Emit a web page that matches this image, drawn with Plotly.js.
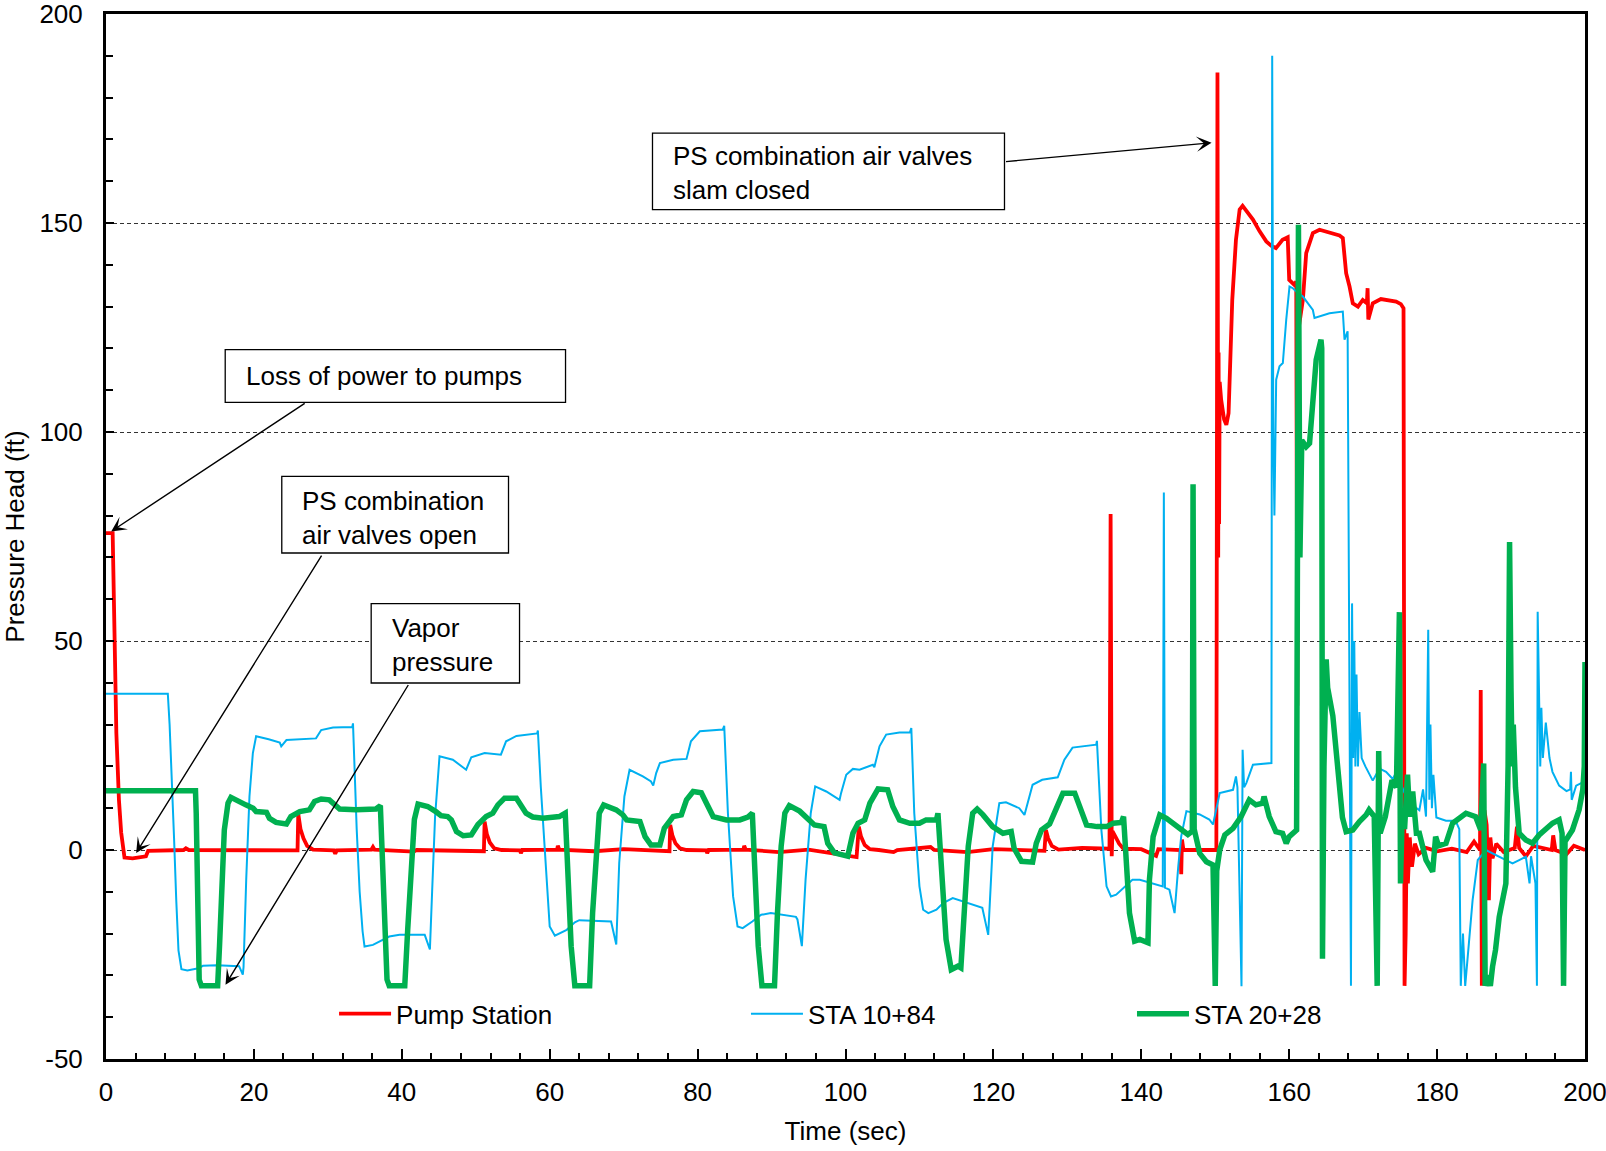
<!DOCTYPE html>
<html>
<head>
<meta charset="utf-8">
<script src="https://cdn.plot.ly/plotly-3.0.1.min.js"></script>
<style>html,body{margin:0;padding:0;background:#fff;}#chart{width:1606px;height:1151px;}</style>
</head>
<body>
<div id="chart"></div>
<script>
// ---------- DATA ----------
const seriesNames = ['Pump Station', 'STA 10+84', 'STA 20+28'];

const pumpTime = [
0, 0.9, 1.15, 1.4, 1.75, 2.05, 2.5, 3.6, 5.4, 5.7,
10.5, 10.8, 11.2, 25.9, 26.0, 26.3, 26.7, 27.2, 28.0, 30.8,
31.0, 31.2, 35.9, 36.1, 36.3, 41.6, 42.0, 51.1, 51.2, 51.5,
51.9, 52.5, 53.5, 56.0, 56.1, 56.3, 61.0, 61.1, 61.3, 66,
70, 76.2, 76.3, 76.6, 77.0, 77.6, 78.5, 81.2, 81.3, 81.5,
86.2, 86.3, 86.5, 91, 95, 101.5, 101.8, 102.1, 102.6, 103.3,
104.5, 106.5, 107, 111.5, 112, 116.5, 120, 126.9, 127.1, 127.4,
127.9, 128.8, 132, 135.7, 135.85, 136.0, 136.1, 136.5, 137.0, 137.6,
140, 142.0, 142.3, 145.3, 145.4, 145.5, 145.7, 150.15, 150.3, 150.4,
150.45, 150.52, 150.6, 150.8, 151.2, 151.5, 151.8, 152.3, 152.8, 153.3,
153.7, 154.2, 155.1, 156.0, 156.9, 157.6, 158.2, 159.1, 159.8, 160.0,
160.7, 160.95, 161.1, 161.3, 161.85, 162.3, 163.2, 164.1, 165.9, 166.8,
167.25, 167.7, 168.16, 168.6, 169.3, 169.95, 170.5, 170.6, 170.7, 171.3,
172.4, 174.46, 175.1, 175.46, 175.6, 175.75, 175.9, 176.05, 176.3, 176.6,
177.0, 177.5, 178.5, 180, 182, 184, 185.0, 185.5, 185.8, 185.9,
186.05, 186.2, 186.4, 186.7, 187.0, 187.2, 187.5, 188.0, 189, 190.5,
190.8, 191.1, 192, 193, 195.5, 195.7, 196.0, 197.5, 198.5, 200
];
const pumpHead = [
75.8, 75.8, 52, 28, 12, 4.2, -1.8, -2.0, -1.5, -0.2,
0.0, 0.4, 0.0, -0.1, 8.6, 5.0, 2.8, 1.0, 0.1, -0.1,
-0.9, -0.1, 0.1, 0.7, 0.1, -0.4, 0, -0.3, 6.8, 3.8,
1.8, 0.4, 0, -0.1, -0.8, 0, 0.1, 1.0, 0.1, -0.3,
0.2, -0.3, 6.0, 3.4, 1.6, 0.4, 0, -0.1, -0.8, 0,
0.1, 1.0, 0.1, -0.5, 0.1, -1.7, 5.6, 3.2, 1.2, 0.2,
0, -0.5, 0, 0.7, 0, -0.5, 0.2, -0.2, 4.8, 2.8,
1.0, 0.1, 0.5, 0.3, 80.4, -1.5, 4.5, 3.2, 1.5, 0.3,
0.2, -1.4, 0.2, 0, -5.8, 2.5, 0, 0, 186, 70,
119, 78, 112, 107.7, 103, 101.7, 104.5, 131.6, 146, 153.2,
154.1, 152.8, 150.8, 148, 145.6, 144.5, 144.0, 146.0, 146.6, 136.4,
135.2, 136, 34.5, 125, 131.6, 142.8, 147.6, 148.4, 147.6, 147.0,
146.4, 138.0, 134.8, 130.8, 130.0, 131.6, 130.8, 134.4, 126.9, 130.8,
131.8, 131.2, 130.6, 129.6, -32.5, -20, 4, -8, 3, -4,
1.5, -1, 0.5, -0.3, 0.3, -0.5, 2, 0.5, 0, 38.3,
-32.5, -5, 9.5, 6, -12, 3, -2, 1.5, -0.5, 0.5,
5.6, 0.5, -1.5, 1, 0, 3.5, 0, -1, 1, 0
];

const sta1084Time = [
0, 8.36, 8.6, 8.9, 9.2, 9.5, 9.8, 10.2, 11, 12.5,
13.1, 15, 18.0, 18.5, 18.6, 18.96, 19.4, 19.86, 20.3, 22,
23.5, 23.7, 24.4, 28.4, 29.1, 30.7, 33.3, 33.4, 33.6, 33.9,
34.3, 34.7, 34.96, 36.1, 38.3, 39.7, 43.1, 43.8, 44.1, 44.5,
45.1, 46.9, 48.7, 49.4, 51.2, 53.4, 54.1, 55.5, 58.3, 58.4,
58.8, 59.3, 60.0, 60.7, 62.3, 63.4, 64.0, 68.3, 69.0, 69.4,
70.1, 70.8, 72.6, 73.7, 74.0, 74.4, 74.9, 76.7, 78.5, 79.1,
80.3, 83.4, 83.6, 84.1, 84.8, 85.4, 86.1, 87.4, 88.6, 89.9,
93.3, 93.5, 94.1, 94.6, 95.3, 95.9, 97.4, 99.2, 99.4, 100.1,
101.0, 101.9, 103.7, 103.9, 104.6, 105.5, 107.3, 108.7, 108.9, 109.3,
110.0, 110.5, 111.2, 112.3, 113.2, 114.5, 118.1, 118.5, 119.3, 119.9,
120.8, 121.7, 123.5, 124.2, 125.3, 126.6, 128.7, 129.6, 130.7, 133.9,
134.0, 134.6, 135.3, 135.9, 136.6, 138.8, 139.8, 142.9, 143.05, 143.2,
143.8, 144.5, 145.0, 145.4, 146.1, 147.9, 149.2, 149.7, 150.6, 152.4,
152.8, 153.0, 153.55, 153.7, 153.9, 154.2, 155.1, 157.6, 157.7, 157.85,
158.0, 158.24, 158.69, 159.14, 159.6, 160.04, 160.5, 160.95, 161.85, 163.2,
163.42, 165.45, 167.25, 167.48, 167.9, 168.1, 168.35, 168.5, 168.65, 168.8,
168.95, 169.1, 169.3, 169.5, 169.8, 170.3, 170.9, 171.3, 172.2, 173.1,
174.0, 174.5, 175.5, 176.5, 177.6, 178.1, 178.5, 178.8, 178.95, 179.1,
179.3, 179.5, 179.9, 181.2, 182.5, 183.0, 183.2, 183.5, 183.8, 184.1,
184.3, 184.8, 185.5, 186.6, 187.5, 188.4, 190.2, 191.1, 192.0, 192.5,
192.7, 193.3, 193.5, 193.6, 193.8, 193.95, 194.1, 194.3, 194.7, 195.2,
195.6, 196.5, 197.5, 198.0, 198.1, 198.2, 198.8, 199.7, 200
];
const sta1084Head = [
37.4, 37.4, 30, 18, 3, -12, -24, -28.5, -28.8, -28.3,
-27.7, -27.6, -27.8, -29.8, -28, -7.1, 12.8, 23.2, 27.2, 26.5,
25.7, 24.8, 26.3, 26.7, 28.7, 29.3, 29.4, 30.3, 20, 5,
-10, -19.5, -23.1, -22.7, -20.7, -20.3, -20.3, -23.8, -10, 8,
22.4, 21.6, 19.2, 22.2, 23.2, 22.8, 26.0, 27.3, 27.9, 28.6,
15, 0.8, -18.3, -20.5, -19.1, -17.3, -16.8, -17.1, -22.6, -3.1,
12.8, 19.2, 17.6, 16.4, 15.4, 18.4, 20.8, 21.6, 21.8, 26.0,
28.4, 28.8, 29.7, 8.8, -11.1, -18.3, -18.7, -17.1, -15.5, -15.1,
-16.0, -16.6, -23.0, -7.1, 8.8, 15.2, 14.0, 12.0, 13.6, 18.0,
19.4, 19.2, 20.4, 19.8, 24.8, 27.6, 28.1, 28.1, 29.2, 8.8,
-8.7, -14.3, -15.1, -14.3, -12.7, -11.5, -13.5, -13.8, -20.3, 0.8,
11.2, 11.4, 10.0, 8.4, 15.6, 16.8, 17.4, 21.6, 24.5, 25.2,
26.1, 4.8, -8.7, -11.1, -10.7, -7.1, -7.1, -8.7, 85.5, -9,
-9.5, -15.1, -3.9, 3.3, 9.3, 8.5, 7.3, 6.1, 13.6, 14.4,
17.6, 15, -32.6, 24, 15, 16.0, 20.4, 20.8, 190, 100,
80, 112.5, 115.7, 116.5, 126.9, 134.8, 134.4, 133.6, 132.4, 129.2,
127.3, 128.4, 128.8, 122.1, 124.1, 60, -32.5, 59, 22, 50,
20, 42, 20, 33, 22, 20, 17.9, 16.6, 19.5, 18.7,
17.0, 18.7, 14, 11, 9.5, 14.5, 8, 52.7, 12, 30,
10, 18, 7.8, 7.0, 7.0, 5, -32.5, -20, -32.5, -25,
-22.3, -12, -2.4, 0, -0.8, -1.6, -3.2, -2.4, -1.6, -8,
-1.5, -8, -32.5, 57, 36.3, 20, 34, 22, 30.5, 22,
18.7, 15.4, 14.1, 14.5, 18.7, 12, 15.4, 16.2, 16
];

const sta2028Time = [
0, 12.1, 12.2, 12.4, 12.6, 12.9, 15.1, 15.35, 15.7, 16.0,
16.5, 16.9, 18.9, 19.9, 20.3, 21.7, 22.1, 23.0, 24.4, 25.0,
26.2, 27.5, 28.2, 29.1, 30.2, 30.9, 31.6, 33.8, 36.5, 37.1,
37.3, 37.7, 38.0, 38.3, 40.4, 40.8, 41.3, 41.7, 42.2, 43.5,
44.6, 45.3, 46.2, 46.7, 47.4, 48.3, 49.4, 50.3, 51.4, 52.3,
53.0, 53.9, 55.5, 56.1, 56.8, 57.7, 59.1, 61.3, 62.1, 62.5,
62.9, 63.4, 65.4, 65.8, 66.3, 66.7, 67.3, 69.0, 69.9, 70.4,
72.2, 72.9, 73.7, 74.9, 75.5, 76.7, 77.8, 78.5, 79.4, 80.5,
81.2, 82.1, 83.9, 85.7, 86.8, 87.4, 87.8, 88.2, 88.7, 90.4,
90.8, 91.3, 91.8, 92.4, 93.8, 95.1, 95.8, 97.1, 97.6, 98.5,
100.3, 101.0, 101.7, 102.6, 103.3, 104.4, 105.7, 106.4, 107.3, 108.7,
110.0, 110.9, 112.3, 112.5, 113.0, 113.6, 114.3, 115.2, 115.6, 116.1,
116.6, 117.2, 117.8, 118.6, 119.9, 121.3, 122.4, 122.8, 123.8, 125.3,
125.8, 126.5, 127.6, 128.5, 129.4, 131.0, 131.7, 132.6, 134.0, 135.3,
136.2, 137.3, 137.6, 138.0, 138.4, 139.1, 139.8, 140.9, 141.1, 141.6,
142.5, 143.4, 145.2, 146.3, 146.9, 147.0, 147.15, 147.9, 148.8, 149.7,
150.0, 150.2, 150.6, 151.3, 152.4, 153.5, 154.6, 155.5, 156.4, 156.6,
157.3, 158.2, 159.1, 159.6, 160.0, 161.0, 161.25, 161.45, 161.7, 162.3,
162.75, 163.2, 163.65, 164.3, 164.4, 164.5, 164.7, 165.0, 165.2, 165.9,
166.3, 166.8, 167.2, 167.7, 168.6, 169.5, 170.4, 170.8, 171.5, 171.9,
172.1, 172.3, 173.0, 173.9, 174.5, 174.9, 175.05, 175.3, 175.6, 176.0,
176.3, 176.7, 177.2, 177.6, 178.5, 179.4, 179.8, 180.2, 181.2, 182.1,
183.0, 183.9, 185.2, 185.9, 186.3, 186.5, 186.8, 187.2, 187.5, 187.9,
188.4, 188.9, 189.3, 189.6, 189.8, 190.0, 190.15, 190.3, 190.6, 191.1,
192.0, 192.9, 193.8, 195.6, 196.5, 196.9, 197.1, 197.3, 198.3, 199.2,
199.7, 199.9, 200
];
const sta2028Head = [
14.2, 14.2, 8.8, -15.1, -31.0, -32.5, -32.5, -23.0, -7.1, 4.8,
11.2, 12.6, 10.8, 10.0, 9.2, 9.0, 7.6, 6.6, 6.2, 8.0,
9.2, 9.6, 11.6, 12.2, 12.0, 10.8, 9.8, 9.6, 9.8, 10.6,
0.9, -15.1, -31.0, -32.5, -32.5, -19.0, -3.1, 7.3, 11.0, 10.4,
9.2, 8.2, 8.0, 7.2, 4.4, 3.4, 3.6, 6.1, 8.0, 8.8,
10.8, 12.4, 12.4, 10.8, 8.8, 7.9, 7.6, 8.0, 8.8, -7.1,
-23.0, -32.5, -32.5, -15.1, 0.9, 8.8, 10.8, 9.6, 8.4, 7.2,
6.8, 3.2, 1.2, 1.2, 5.2, 8.0, 8.4, 12.0, 14.0, 13.7,
11.2, 8.0, 7.2, 7.2, 7.9, 8.8, -7.1, -23.0, -32.5, -32.5,
-15.1, 0.9, 8.8, 10.6, 9.3, 7.2, 6.0, 5.6, 1.6, -0.7,
-1.5, 4.0, 6.4, 7.2, 11.2, 14.6, 14.4, 10.4, 7.2, 6.4,
6.4, 7.2, 7.2, 8.8, -3.1, -21.4, -28.6, -27.8, -28.2, -15.1,
0.9, 8.8, 9.8, 8.4, 5.6, 4.0, 4.4, 0.4, -2.7, -2.9,
1.6, 4.8, 6.2, 9.9, 13.6, 13.6, 10.4, 6.0, 5.6, 5.6,
6.4, 6.6, 8.0, -3.1, -15.1, -21.8, -21.4, -22.2, -7.1, 3.2,
8.4, 7.6, 5.3, 3.7, 4.5, 87.5, 5, -0.8, -2.8, -3.6,
-32.5, -5, 0, 3.6, 5.2, 8.0, 12.0, 10.8, 11.2, 12.8,
8.0, 4.4, 4.0, 1.6, 3.2, 4.8, 149.6, 70, 98, 96.5,
97.3, 107.7, 117.3, 122.1, 120, -26, 20, 45.6, 38.8, 32.1,
24.6, 16.2, 7.8, 4.4, 4.8, 6.8, 8.4, 9.6, 8.0, -32.5,
23.7, 4, 8, 16.7, 15, 56.9, -8, 10, 5, 18,
8, 14, 4, 4, -2.4, -5.2, 3.2, 1, 1.6, 6.4,
7.6, 8.8, 8.0, 4.8, 20.7, -32.5, -30, -32.5, -27.9, -23.9,
-16, -10.4, -8, 20, 73.7, 38, 20, 30, 15, 4,
2.4, 1.6, 3.6, 6.4, 7.2, 4, -32.5, 2, 4.8, 9.6,
14.4, 20, 45
];

const xTickValues = [0, 20, 40, 60, 80, 100, 120, 140, 160, 180, 200];
const xTickLabels = ['0', '20', '40', '60', '80', '100', '120', '140', '160', '180', '200'];
const yTickValues = [-50, 0, 50, 100, 150, 200];
const yTickLabels = ['-50', '0', '50', '100', '150', '200'];

const calloutTexts = [
  'Loss of power to pumps',
  'PS combination<br>air valves open',
  'Vapor<br>pressure',
  'PS combination air valves<br>slam closed'
];

// ---------- CHART ----------
const FONT = 'Liberation Sans, Arial, Helvetica, sans-serif';

const traces = [
  {x: pumpTime, y: pumpHead, name: seriesNames[0], mode: 'lines', legend: 'legend',
   line: {color: '#FF0000', width: 3.8}},
  {x: sta1084Time, y: sta1084Head, name: seriesNames[1], mode: 'lines', legend: 'legend2',
   line: {color: '#00B0F0', width: 2}},
  {x: sta2028Time, y: sta2028Head, name: seriesNames[2], mode: 'lines', legend: 'legend3',
   line: {color: '#00B050', width: 5.5}}
];

function legendAt(xp) {
  return {x: xp, y: 0.0433, xanchor: 'left', yanchor: 'middle', orientation: 'h',
          bgcolor: 'rgba(0,0,0,0)', borderwidth: 0, itemwidth: 52,
          font: {family: FONT, size: 26, color: '#000'}};
}

function box(x0, x1, y0, y1) {
  return {type: 'rect', xref: 'x', yref: 'y', x0: x0, x1: x1, y0: y0, y1: y1,
          line: {color: '#000', width: 1.3}, fillcolor: '#fff', layer: 'above'};
}
function label(txt, x, y) {
  return {text: txt, x: x, y: y, xref: 'x', yref: 'y', xanchor: 'left', yanchor: 'middle',
          align: 'left', showarrow: false, font: {family: FONT, size: 26, color: '#000'}};
}
function arrow(x, y, ax, ay) {
  return {text: ' ', x: x, y: y, ax: ax, ay: ay, xref: 'x', yref: 'y', axref: 'x', ayref: 'y',
          showarrow: true, arrowhead: 3, arrowsize: 1.8, arrowwidth: 1.4, arrowcolor: '#000',
          standoff: 0, startstandoff: 0, font: {size: 1}};
}

const layout = {
  width: 1606, height: 1151,
  margin: {l: 106, r: 21, t: 14, b: 92, pad: 0},
  paper_bgcolor: '#fff', plot_bgcolor: '#fff',
  font: {family: FONT, size: 26, color: '#000'},
  showlegend: true,
  legend: legendAt(0.1542),
  legend2: legendAt(0.4327),
  legend3: legendAt(0.6937),
  xaxis: {
    range: [0, 200], tickmode: 'array', tickvals: xTickValues, ticktext: xTickLabels,
    ticks: 'inside', ticklen: 10, tickwidth: 2, tickcolor: '#000',
    showline: true, linewidth: 3, linecolor: '#000', mirror: true,
    showgrid: false, zeroline: false, ticklabeloverflow: 'allow',
    minor: {dtick: 4, tick0: 0, ticks: 'inside', ticklen: 6, tickwidth: 2, tickcolor: '#000', showgrid: false},
    tickfont: {family: FONT, size: 26, color: '#000'},
    ticklabelstandoff: 8,
    title: {text: 'Time (sec)', font: {family: FONT, size: 26, color: '#000'}, standoff: 16}
  },
  yaxis: {
    range: [-50, 200], tickmode: 'array', tickvals: yTickValues, ticktext: yTickLabels,
    ticks: 'inside', ticklen: 8, tickwidth: 2, tickcolor: '#000',
    showline: true, linewidth: 3, linecolor: '#000', mirror: true,
    showgrid: true, gridcolor: '#333', gridwidth: 1, griddash: '4px,3px',
    zeroline: false, ticklabeloverflow: 'allow',
    minor: {dtick: 10, tick0: 0, ticks: 'inside', ticklen: 7, tickwidth: 2, tickcolor: '#000', showgrid: false},
    tickfont: {family: FONT, size: 26, color: '#000'},
    ticklabelstandoff: 15,
    title: {text: 'Pressure Head (ft)', font: {family: FONT, size: 26, color: '#000'}, standoff: 14}
  },
  shapes: [
    box(16.12, 62.14, 107.08, 119.69),
    box(23.77, 54.43, 71.05, 89.38),
    box(35.86, 55.92, 39.95, 58.92),
    box(73.90, 121.5, 153.18, 171.48)
  ],
  annotations: [
    label(calloutTexts[0], 18.70, 113.4),
    label(calloutTexts[1], 26.25, 79.5),
    label(calloutTexts[2], 38.45, 49.0),
    label(calloutTexts[3], 76.35, 162.0),
    arrow(0.70, 76.22, 27.07, 107.08),
    arrow(4.08, -0.72, 29.32, 70.89),
    arrow(16.16, -32.22, 41.04, 39.95),
    arrow(149.5, 169.2, 121.5, 164.66)
  ]
};

Plotly.newPlot('chart', traces, layout, {staticPlot: true, displayModeBar: false});
</script>
</body>
</html>
